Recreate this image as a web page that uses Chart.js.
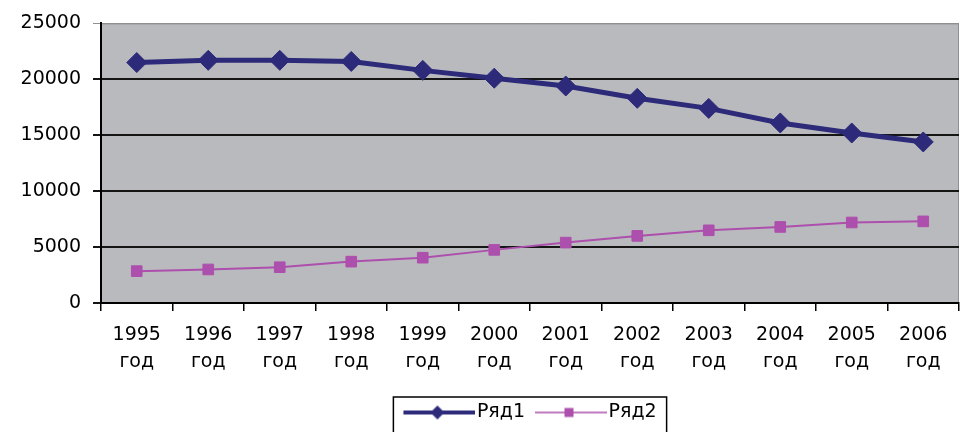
<!DOCTYPE html>
<html>
<head>
<meta charset="utf-8">
<script src="https://cdn.jsdelivr.net/npm/chart.js@4.4.1/dist/chart.umd.min.js"></script>
<style>
    html, body { margin: 0; padding: 0; background: #fff; }
    #wrap { width: 960px; height: 432px; }
</style>
</head>
<body>
<div id="wrap"><canvas id="chart" width="960" height="432"></canvas></div>
<script>
// Данные графика
const years = ['1995', '1996', '1997', '1998', '1999', '2000', '2001', '2002', '2003', '2004', '2005', '2006'];
const yearSuffix = 'год';
const seriesNames = ['Ряд1', 'Ряд2'];
const row1 = [21500, 21700, 21700, 21600, 20800, 20100, 19400, 18300, 17400, 16100, 15200, 14400];
const row2 = [2850, 3000, 3200, 3700, 4050, 4750, 5400, 6000, 6500, 6800, 7200, 7300];
const yMin = 0;
const yMax = 25000;
const yStep = 5000;

// Цвета
const navy = '#2d2a7a';
const magenta = '#ad4fad';
const plotGray = '#b9babd';
const fontFamily = '"DejaVu Sans", "Liberation Sans", Arial, sans-serif';

// Образец за легендата: линия с маркер в средата
function legendSample(color, lineWidth, shape, size, boxWidth) {
    const c = document.createElement('canvas');
    c.width = boxWidth + 16;
    c.height = 24;
    const g = c.getContext('2d');
    g.strokeStyle = color;
    g.fillStyle = color;
    g.lineWidth = lineWidth;
    g.beginPath();
    g.moveTo(8, 12);
    g.lineTo(c.width, 12);
    g.stroke();
    const cx = 8 + boxWidth / 2 + 2;
    g.beginPath();
    if (shape === 'diamond') {
        g.moveTo(cx - size, 12);
        g.lineTo(cx, 12 - size);
        g.lineTo(cx + size, 12);
        g.lineTo(cx, 12 + size);
        g.closePath();
    } else {
        g.rect(cx - size, 12 - size, size * 2, size * 2);
    }
    g.fill();
    return c;
}

const legendBoxWidth = 64;
const legendSamples = [
    legendSample(navy, 4, 'diamond', 7, legendBoxWidth),
    legendSample(magenta, 1.5, 'square', 4.5, legendBoxWidth)
];

// Серый фон области построения
const plotBackground = {
    id: 'plotBackground',
    beforeDraw(chart) {
        const {ctx, chartArea: a} = chart;
        ctx.save();
        ctx.fillStyle = plotGray;
        ctx.fillRect(a.left, a.top, a.right - a.left, a.bottom - a.top);
        ctx.strokeStyle = '#8f8f92';
        ctx.lineWidth = 1;
        ctx.beginPath();
        ctx.moveTo(a.left, a.top + 0.5);
        ctx.lineTo(a.right - 0.5, a.top + 0.5);
        ctx.lineTo(a.right - 0.5, a.bottom);
        ctx.stroke();
        ctx.restore();
    }
};

// Рамка вокруг легенды
const legendFrame = {
    id: 'legendFrame',
    afterDraw(chart) {
        const boxes = chart.legend.legendHitBoxes;
        if (!boxes || !boxes.length) return;
        const first = boxes[0];
        const last = boxes[boxes.length - 1];
        const {ctx} = chart;
        ctx.save();
        ctx.strokeStyle = '#000';
        ctx.lineWidth = 1.5;
        ctx.strokeRect(first.left - 10, first.top - 6, last.left + last.width - first.left + 20, 60);
        ctx.restore();
    }
};

new Chart(document.getElementById('chart'), {
    type: 'line',
    data: {
        labels: years,
        datasets: [{
            label: seriesNames[0],
            data: row1,
            borderColor: navy,
            backgroundColor: navy,
            borderWidth: 5,
            pointStyle: 'rectRot',
            pointRadius: 10,
            pointBorderWidth: 1,
            tension: 0
        }, {
            label: seriesNames[1],
            data: row2,
            borderColor: magenta,
            backgroundColor: magenta,
            borderWidth: 2,
            pointStyle: 'rect',
            pointRadius: 7.5,
            pointBorderWidth: 1,
            tension: 0
        }]
    },
    options: {
        responsive: false,
        animation: false,
        // Без автоматичен отстъп за маркерите, иначе областта се свива отдясно
        layout: { autoPadding: false, padding: { left: 0, right: 1, top: 21, bottom: 0 } },
        scales: {
            x: {
                offset: true,
                grid: { offset: true, drawOnChartArea: false, color: '#000', lineWidth: 1.5, tickLength: 8 },
                border: { color: '#000', width: 2 },
                ticks: {
                    color: '#000',
                    padding: 10,
                    maxRotation: 0,
                    autoSkip: false,
                    font: { family: fontFamily, size: 19, lineHeight: 1.45 },
                    callback: (value, index) => [years[index], yearSuffix]
                },
                afterFit: scale => {
                    scale.height = 90;
                    scale.paddingLeft = 0;
                    scale.paddingRight = 0;
                }
            },
            y: {
                min: yMin,
                max: yMax,
                grid: {
                    color: c => (c.tick && c.tick.value === yMax) ? '#8f8f92' : '#151515',
                    lineWidth: c => (c.tick && c.tick.value === yMax) ? 1 : 2,
                    tickLength: 8
                },
                border: { color: '#000', width: 2 },
                ticks: {
                    stepSize: yStep,
                    color: '#000',
                    padding: 12,
                    font: { family: fontFamily, size: 19 },
                    callback: value => String(value)
                },
                afterFit: scale => { scale.width = 101; }
            }
        },
        plugins: {
            legend: {
                position: 'bottom',
                fullSize: false,
                labels: {
                    usePointStyle: true,
                    pointStyleWidth: legendBoxWidth,
                    padding: 10,
                    color: '#000',
                    font: { family: fontFamily, size: 19 },
                    generateLabels: chart => {
                        const items = Chart.defaults.plugins.legend.labels.generateLabels(chart);
                        items.forEach((item, i) => { item.pointStyle = legendSamples[i]; });
                        return items;
                    }
                }
            },
            tooltip: { enabled: false }
        }
    },
    plugins: [plotBackground, legendFrame]
});
</script>
</body>
</html>
